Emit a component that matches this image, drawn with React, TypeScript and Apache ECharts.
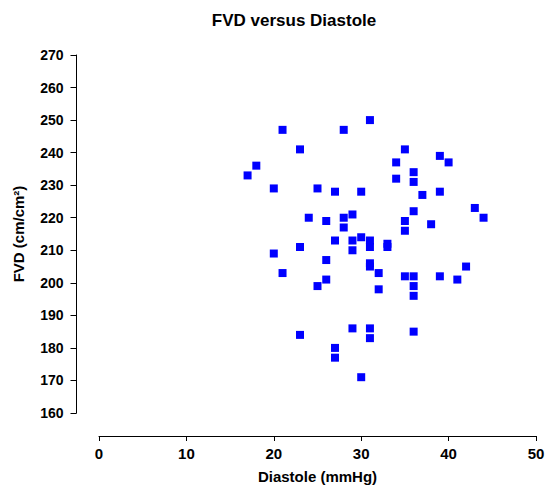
import React, { useEffect, useRef } from "react";
import * as echarts from "echarts";

const diastole = [17, 18, 21, 20, 23, 25, 24, 28, 27, 31, 35, 34, 34, 36, 36, 30, 39, 40, 37, 39, 43, 44, 36, 35, 35, 38, 26, 28, 29, 28, 27, 29, 30, 31, 31, 33, 33, 29, 23, 20, 26, 31, 31, 32, 21, 26, 35, 36, 36, 36, 25, 32, 29, 31, 31, 23, 36, 27, 27, 30, 42, 39, 41];
const fvd = [233, 236, 247, 229, 241, 229, 220, 247, 228, 250, 241, 232, 237, 234, 231, 228, 239, 237, 227, 228, 223, 220, 222, 219, 216, 218, 219, 220, 221, 217, 213, 213, 214, 213, 211, 212, 211, 210, 211, 209, 207, 206, 205, 203, 203, 201, 202, 202, 199, 196, 199, 198, 186, 186, 183, 184, 185, 180, 177, 171, 205, 202, 201];

const FONT = "'Liberation Sans', Arial, Helvetica, sans-serif";

export default function App() {
  const ref = useRef<HTMLDivElement>(null);
  useEffect(() => {
    if (!ref.current) return;
    const chart = echarts.init(ref.current, null, { renderer: "svg" });
    const data = diastole.map((x, i) => [x, fvd[i]]);
    chart.setOption({
      animation: false,
      backgroundColor: "#ffffff",
      graphic: [
        {
          type: "text",
          x: 294,
          y: 20,
          style: {
            text: "FVD versus Diastole",
            font: `bold 17px ${FONT}`,
            fill: "#000",
            textAlign: "center",
            textVerticalAlign: "middle",
          },
        },
      ],
      grid: {
        left: 99,
        top: 55,
        width: 437,
        height: 358,
        containLabel: false,
        outerBoundsMode: "none",
      },
      xAxis: {
        type: "value",
        min: 0,
        max: 50,
        interval: 10,
        offset: 23,
        name: "Diastole (mmHg)",
        nameLocation: "middle",
        nameGap: 33,
        nameTextStyle: { fontFamily: FONT, fontWeight: "bold", fontSize: 15, color: "#000" },
        axisLine: { show: true, onZero: false, lineStyle: { color: "#000", width: 1 } },
        axisTick: { show: true, length: 5, lineStyle: { color: "#000" } },
        axisLabel: { margin: 10, fontFamily: FONT, fontWeight: "bold", fontSize: 15, color: "#000" },
        splitLine: { show: false },
      },
      yAxis: {
        type: "value",
        min: 160,
        max: 270,
        interval: 10,
        offset: 22.5,
        name: "FVD (cm/cm²)",
        nameLocation: "middle",
        nameGap: 51,
        nameRotate: 90,
        nameTextStyle: { fontFamily: FONT, fontWeight: "bold", fontSize: 15, color: "#000" },
        axisLine: { show: true, onZero: false, lineStyle: { color: "#000", width: 1 } },
        axisTick: { show: true, length: 6, lineStyle: { color: "#000" } },
        axisLabel: { margin: 13, fontFamily: FONT, fontWeight: "bold", fontSize: 14, color: "#000" },
        splitLine: { show: false },
      },
      series: [
        {
          type: "scatter",
          data,
          symbol: "rect",
          symbolSize: 8,
          itemStyle: { color: "#0000ff", opacity: 1 },
        },
      ],
    });
    return () => chart.dispose();
  }, []);
  return (
    <div
      ref={ref}
      style={{ position: "fixed", left: 0, top: 0, width: 547, height: 490 }}
    />
  );
}
